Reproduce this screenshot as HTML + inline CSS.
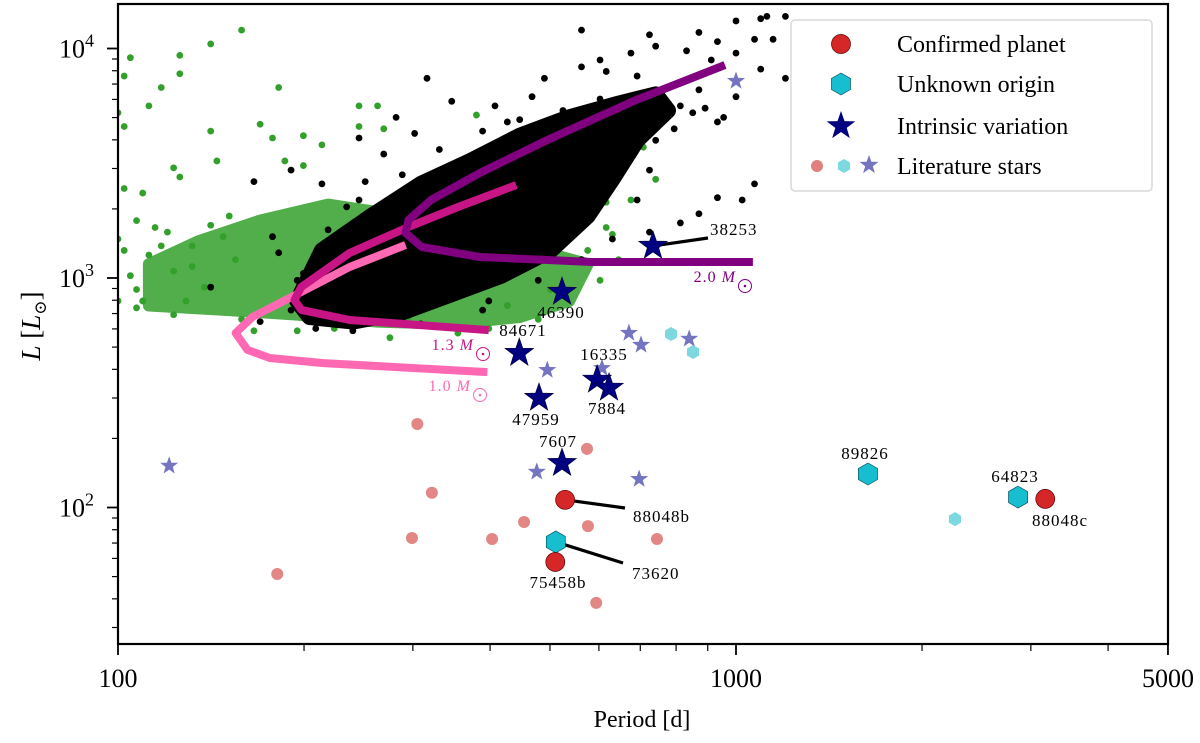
<!DOCTYPE html>
<html><head><meta charset="utf-8"><style>
html,body{margin:0;padding:0;background:#fff;}
svg{display:block;font-family:"Liberation Serif","DejaVu Serif",serif;}
</style></head><body>
<svg id="chart" width="1200" height="743" viewBox="0 0 1200 743" xmlns="http://www.w3.org/2000/svg">
<g id="clouds"></g>
<g id="tracks"></g>
<g id="marks"></g>
<g id="axes"></g>
<g id="legend"></g>
</svg>
<script>
// ---------- data ----------
const xTicksMajor = [100, 1000, 5000];
const xTickLabels = ["100", "1000", "5000"];
const xTicksMinor = [200, 300, 400, 500, 600, 700, 800, 900, 2000, 3000, 4000];
const yDecades = [100, 1000, 10000];
const yDecadeExp = ["2", "3", "4"];
const yTicksMinor = [30, 40, 50, 60, 70, 80, 90, 200, 300, 400, 500, 600, 700, 800, 900, 2000, 3000, 4000, 5000, 6000, 7000, 8000, 9000];

// dense core outlines (log10 Period, log10 L)
const greenCoreLogP = [2.05,2.13,2.23,2.34,2.46,2.57,2.68,2.76,2.73,2.65,2.54,2.42,2.29,2.18,2.05];
const greenCoreLogL = [3.06,3.16,3.25,3.32,3.27,3.19,3.12,3.06,2.90,2.83,2.80,2.81,2.84,2.86,2.88];
const blackCoreLogP = [2.29,2.33,2.41,2.49,2.57,2.65,2.73,2.81,2.87,2.89,2.84,2.80,2.76,2.70,2.62,2.54,2.46,2.38,2.31];
const blackCoreLogL = [2.90,3.12,3.27,3.41,3.51,3.62,3.70,3.76,3.80,3.73,3.60,3.43,3.27,3.12,3.01,2.93,2.85,2.81,2.83];

// scattered cloud stars (log10 Period, log10 L)
const greenLogP = [2.20,2.15,2.10,2.02,2.01,2.10,2.07,2.05,2.00,2.01,2.26,2.15,2.23,2.25,2.30,2.39,2.42,2.39,2.43,2.09,2.10,2.16,2.27,2.30,2.33,2.01,2.04,2.58,2.87,2.83,2.79,2.03,2.09,2.63,2.47,2.70,2.85,2.00,2.02,2.04,2.05,2.08,2.09,2.11,2.12,2.15,2.00,2.03,2.18,2.20,2.22,2.29,2.55,2.68,2.78,2.80,2.81,2.74,2.72,2.65,2.01,2.03,2.06,2.07,2.12,2.14,2.17,2.19,2.24,2.35,2.44,2.60,2.76,2.79];
const greenLogL = [4.08,4.02,3.97,3.96,3.88,3.89,3.83,3.75,3.72,3.66,3.83,3.64,3.67,3.61,3.62,3.75,3.75,3.66,3.65,3.48,3.44,3.51,3.51,3.49,3.58,3.39,3.37,3.71,3.43,3.34,3.33,2.87,2.84,2.88,2.83,2.95,3.57,3.17,3.01,2.90,3.10,3.20,3.03,2.90,3.14,3.23,2.90,3.25,3.27,2.82,2.77,2.77,2.76,2.82,2.99,3.19,3.08,3.32,2.95,3.34,3.12,2.95,3.22,3.14,3.05,2.96,3.18,3.08,2.86,2.78,2.74,2.78,3.12,3.22];
const blackLogP = [2.75,2.86,2.94,3.00,3.04,3.05,3.08,3.03,2.97,2.92,2.87,2.83,2.75,2.69,2.79,3.00,3.06,3.08,3.04,3.00,2.98,2.97,2.93,2.91,2.84,2.87,2.80,2.77,3.03,2.97,3.01,2.94,2.91,2.86,2.77,2.50,2.54,2.45,2.39,2.61,2.67,2.63,2.48,2.43,2.40,2.28,2.22,2.33,2.37,2.25,2.26,2.15,2.32,2.23,2.60,2.40,2.73,2.67,2.69,2.81,2.78,2.72,2.65,2.59,2.52,2.46,2.39,2.34,2.29,2.28,2.38,2.49,2.59,2.68,2.75,2.80,2.84,2.86,2.88,2.94,2.96,2.84,2.78,2.92,2.90,2.95,2.71,2.63,2.56,2.47,2.36,2.30];
const blackLogL = [4.08,4.06,4.07,4.12,4.13,4.14,4.14,4.04,4.03,3.99,4.01,3.98,3.92,3.87,3.90,3.98,4.04,3.87,3.91,3.79,3.70,3.68,3.72,3.75,3.66,3.60,3.53,3.47,3.41,3.35,3.34,3.28,3.24,3.20,3.31,3.87,3.77,3.70,3.61,3.75,3.79,3.68,3.63,3.54,3.42,3.47,3.42,3.41,3.31,3.18,3.11,2.96,2.78,2.81,2.90,2.95,3.22,3.20,3.28,3.56,3.78,3.73,3.69,3.64,3.56,3.45,3.34,3.21,2.99,2.86,2.77,2.80,2.86,2.99,3.08,3.17,3.34,3.47,3.69,3.82,3.95,3.88,3.95,3.86,3.65,3.74,3.52,3.43,3.30,3.24,3.13,3.02];

// evolutionary tracks (Period d, L Lsun)
const track20P = [960,689,495,385,321,295,292,310,385,585,1065];
const track20L = [8472,5965,3992,2868,2187,1790,1571,1365,1235,1174,1174];
const track13P = [441,355,295,237,198,193,198,237,398];
const track13L = [2543,2039,1668,1285,914,802,726,656,593];
const track10P = [292,237,191,165,155,162,176,215,396];
const track10L = [1393,1117,827,676,576,486,448,426,389];

// literature stars
const litPlanetP = [305,322,299,181,403,454,574,576,745,594];
const litPlanetL = [231,116,73.6,51.3,72.9,86.5,180,83,72.9,38.4];
const litUnknownP = [785,852,2261];
const litUnknownL = [570,476,89];
const litIntrinsicP = [121,1000,671,702,495,840,607,476,697];
const litIntrinsicL = [152,7216,576,511,397,543,405,143,133];

// this work
const planetNames = ["88048b","75458b","88048c"];
const planetP = [529,510,3165];
const planetL = [108,57.9,109];
const unknownNames = ["73620","89826","64823"];
const unknownP = [511,1635,2860];
const unknownL = [70.8,140,111];
const intrinsicNames = ["38253","46390","84671","16335","7884","47959","7607"];
const intrinsicP = [734,523,446,596,623,480,523];
const intrinsicL = [1379,869,471,360,332,300,156];

// ---------- scales ----------
const X0 = 118, XDEC = 618, Y3 = 278, YDEC = 229.5;
function xs(p){ return X0 + XDEC*(Math.log10(p)-2); }
function ys(l){ return Y3 - YDEC*(Math.log10(l)-3); }
function xl(lp){ return X0 + XDEC*(lp-2); }
function yl(ll){ return Y3 - YDEC*(ll-3); }
const NS = "http://www.w3.org/2000/svg";
function mk(tag, attrs, parent){ const e=document.createElementNS(NS,tag); for(const k in attrs) e.setAttribute(k,attrs[k]); parent.appendChild(e); return e; }
function starPts(cx,cy,R){ const r=R*0.4; let s=[]; for(let i=0;i<10;i++){ const a=-Math.PI/2+i*Math.PI/5; const rr=i%2?r:R; s.push((cx+rr*Math.cos(a)).toFixed(1)+","+(cy+rr*Math.sin(a)).toFixed(1)); } return s.join(" "); }
function hexPts(cx,cy,R){ let s=[]; for(let i=0;i<6;i++){ const a=Math.PI/6+i*Math.PI/3; s.push((cx+R*Math.cos(a)).toFixed(1)+","+(cy+R*Math.sin(a)).toFixed(1)); } return s.join(" "); }

const svg=document.getElementById('chart');
const defs=mk('defs',{},svg);
const cp=mk('clipPath',{id:'plotclip'},defs);
mk('rect',{x:118,y:4,width:1050,height:640},cp);

// ---------- clouds ----------
const clouds=document.getElementById('clouds');
clouds.setAttribute('clip-path','url(#plotclip)');
const GREEN="#33a02c";
function corePath(lp,ll){ return lp.map((v,i)=>(i?"L":"M")+xl(v).toFixed(1)+","+yl(ll[i]).toFixed(1)).join(" ")+"Z"; }
const gcore=mk('path',{d:corePath(greenCoreLogP,greenCoreLogL),fill:GREEN,stroke:GREEN,'stroke-width':12,'stroke-linejoin':'round',opacity:0.85},clouds);


greenLogP.forEach((v,i)=>{
  const c=mk('circle',{cx:xl(v),cy:yl(greenLogL[i]),r:3.4,fill:GREEN},clouds);
  
  
});
const bcore=mk('path',{d:corePath(blackCoreLogP,blackCoreLogL),fill:"#000",stroke:"#000",'stroke-width':16,'stroke-linejoin':'round'},clouds);


blackLogP.forEach((v,i)=>{
  const c=mk('circle',{cx:xl(v),cy:yl(blackLogL[i]),r:3.4,fill:"#000"},clouds);
  
  
});

// ---------- tracks ----------
const tracks=document.getElementById('tracks');
function drawTrack(P,L,color,name){
  const d=P.map((p,i)=>(i?"L":"M")+xs(p).toFixed(1)+","+ys(L[i]).toFixed(1)).join(" ");
  const e=mk('path',{d:d,fill:"none",stroke:color,'stroke-width':8,'stroke-linejoin':'round'},tracks);
  
  
}
drawTrack(track10P,track10L,"#ff69b4","track-1-0-msun");
drawTrack(track13P,track13L,"#c71585","track-1-3-msun");
drawTrack(track20P,track20L,"#800080","track-2-0-msun");
function massLabel(x,y,txt,color,name){
  const t=mk('text',{x:x,y:y,fill:color,'font-size':16,'text-anchor':'end','letter-spacing':'1'},tracks);
  t.innerHTML=txt+' <tspan font-style="italic">M</tspan>';
  
  
  mk('circle',{cx:x+9,cy:y+4,r:6.5,fill:'none',stroke:color,'stroke-width':1},tracks);
  mk('circle',{cx:x+9,cy:y+4,r:1.3,fill:color},tracks);
}
massLabel(736,282,"2.0","#800080","label-2-0-msun");
massLabel(474,350,"1.3","#c71585","label-1-3-msun");
massLabel(471,391,"1.0","#ff69b4","label-1-0-msun");

// ---------- markers ----------
const marks=document.getElementById('marks');
litPlanetP.forEach((p,i)=>{
  const c=mk('circle',{cx:xs(p),cy:ys(litPlanetL[i]),r:6,fill:"#e08080",opacity:0.95},marks);
  
  
});
litUnknownP.forEach((p,i)=>{
  const c=mk('polygon',{points:hexPts(xs(p),ys(litUnknownL[i]),7),fill:"#7dd8e0"},marks);
  
  
});
litIntrinsicP.forEach((p,i)=>{
  const c=mk('polygon',{points:starPts(xs(p),ys(litIntrinsicL[i]),9.5),fill:"#7474c0"},marks);
  
  
});

function leader(x1,y1,x2,y2,name){
  const l=mk('line',{x1:x1,y1:y1,x2:x2,y2:y2,stroke:"#000",'stroke-width':3.2},marks);
  
  
}
leader(xs(intrinsicP[0]),ys(intrinsicL[0]),708,238,"leader-38253");
leader(xs(planetP[0]),ys(planetL[0]),625,508,"leader-88048b");
leader(xs(unknownP[0]),ys(unknownL[0]),623,563,"leader-73620");

intrinsicP.forEach((p,i)=>{
  const c=mk('polygon',{points:starPts(xs(p),ys(intrinsicL[i]),15),fill:"#000080",stroke:"#000033",'stroke-width':0.6},marks);
  
  
});
unknownP.forEach((p,i)=>{
  const c=mk('polygon',{points:hexPts(xs(p),ys(unknownL[i]),11),fill:"#17becf",stroke:"#0a5560",'stroke-width':0.7},marks);
  
  
});
planetP.forEach((p,i)=>{
  const c=mk('circle',{cx:xs(p),cy:ys(planetL[i]),r:9.5,fill:"#d62728",stroke:"#5a0000",'stroke-width':0.7},marks);
  
  
});

const starLabels=[["38253",710,235,"start"],["46390",561,318,"middle"],["84671",523,336,"middle"],["16335",604,360,"middle"],["7884",607,414,"middle"],["47959",536,425,"middle"],["7607",558,447,"middle"],["88048b",633,522,"start"],["73620",632,579,"start"],["75458b",558,588,"middle"],["89826",865,459,"middle"],["64823",1015,482,"middle"],["88048c",1060,526,"middle"]];
starLabels.forEach(s=>{
  const t=mk('text',{x:s[1],y:s[2],'font-size':17,'text-anchor':s[3],fill:"#000",'letter-spacing':'1'},marks);
  t.textContent=s[0];
  
  
});

// ---------- axes ----------
const axes=document.getElementById('axes');
const frame=mk('rect',{x:118,y:4,width:1050,height:640,fill:"none",stroke:"#000",'stroke-width':2.2},axes);


xTicksMajor.forEach((v,i)=>{
  const x=xs(v);
  mk('line',{x1:x,y1:644,x2:x,y2:655,stroke:"#000",'stroke-width':1.8},axes);
  const t=mk('text',{x:x,y:687,'font-size':26,'text-anchor':'middle'},axes);
  t.textContent=xTickLabels[i];
  
  
});
xTicksMinor.forEach(v=>{ const x=xs(v); mk('line',{x1:x,y1:644,x2:x,y2:651,stroke:"#000",'stroke-width':1.2},axes); });
yDecades.forEach((v,i)=>{
  const y=ys(v);
  mk('line',{x1:107,y1:y,x2:118,y2:y,stroke:"#000",'stroke-width':1.8},axes);
  const t=mk('text',{x:94,y:y+9,'font-size':26,'text-anchor':'end'},axes);
  t.innerHTML='10<tspan font-size="18" dy="-11">'+yDecadeExp[i]+'</tspan>';
  
  
});
yTicksMinor.forEach(v=>{ const y=ys(v); if(y>5&&y<643) mk('line',{x1:112,y1:y,x2:118,y2:y,stroke:"#000",'stroke-width':1.2},axes); });
const xt=mk('text',{x:642,y:727,'font-size':24,'text-anchor':'middle'},axes);
xt.textContent="Period [d]";


const yt=mk('text',{x:0,y:0,'font-size':27,'text-anchor':'middle',transform:'translate(40,326) rotate(-90)'},axes);
yt.innerHTML='<tspan font-style="italic">L</tspan> [<tspan font-style="italic">L</tspan><tspan font-size="17" dy="6">⊙</tspan><tspan dy="-6">]</tspan>';



// ---------- legend ----------
const lg=document.getElementById('legend');
const box=mk('rect',{x:791,y:20,width:361,height:171,rx:4,fill:"#fff",stroke:"#d8d8d8",'stroke-width':1.5,opacity:0.95},lg);


const rows=["Confirmed planet","Unknown origin","Intrinsic variation","Literature stars"];
const rowY=[44,84,126,166];
rows.forEach((r,i)=>{
  const t=mk('text',{x:897,y:rowY[i]+8,'font-size':24},lg);
  t.textContent=r;
  
  
});
mk('circle',{cx:841,cy:44,r:9.5,fill:"#d62728",stroke:"#5a0000",'stroke-width':0.7},lg);
mk('polygon',{points:hexPts(841,84,11),fill:"#17becf",stroke:"#0a5560",'stroke-width':0.7},lg);
mk('polygon',{points:starPts(841,126,15),fill:"#000080"},lg);
mk('circle',{cx:817,cy:166,r:6,fill:"#e08080"},lg);
mk('polygon',{points:hexPts(844,166,7),fill:"#7dd8e0"},lg);
mk('polygon',{points:starPts(869,165,10),fill:"#7474c0"},lg);
</script>
</body></html>
